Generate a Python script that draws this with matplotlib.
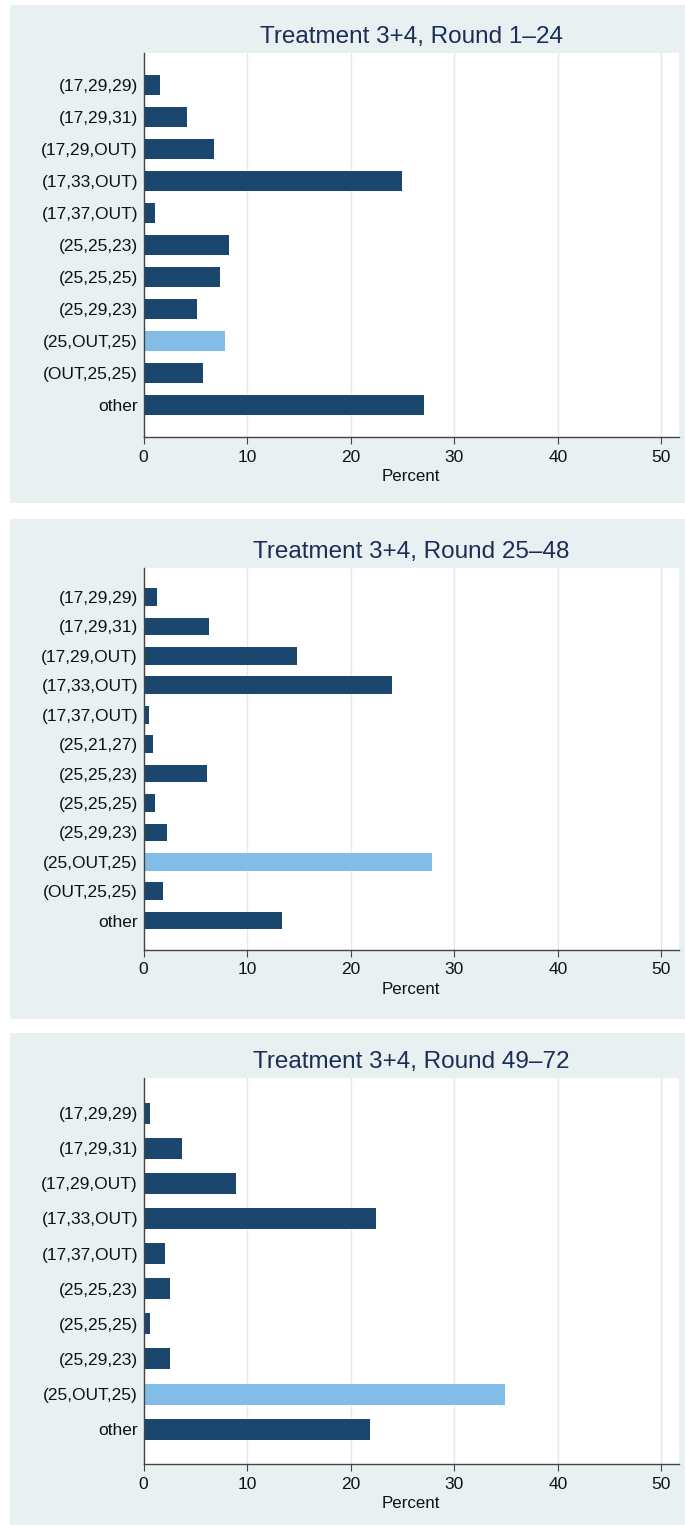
#!/usr/bin/python
# coding=utf8

import matplotlib
matplotlib.use('Agg')
import matplotlib.pyplot as plt
from matplotlib.patches import Rectangle

plt.rcParams['font.family'] = ['Liberation Sans', 'DejaVu Sans']

# strategy profiles and their shares of play per block of rounds

titles = ['Treatment 3+4, Round 1\u201324', 'Treatment 3+4, Round 25\u201348', 'Treatment 3+4, Round 49\u201372']

labels1 = ['(17,29,29)', '(17,29,31)', '(17,29,OUT)', '(17,33,OUT)', '(17,37,OUT)', '(25,25,23)', '(25,25,25)', '(25,29,23)', '(25,OUT,25)', '(OUT,25,25)', 'other']
percent1 = [1.6, 4.2, 6.8, 25.0, 1.1, 8.3, 7.4, 5.2, 7.9, 5.7, 27.1]

labels2 = ['(17,29,29)', '(17,29,31)', '(17,29,OUT)', '(17,33,OUT)', '(17,37,OUT)', '(25,21,27)', '(25,25,23)', '(25,25,25)', '(25,29,23)', '(25,OUT,25)', '(OUT,25,25)', 'other']
percent2 = [1.3, 6.3, 14.8, 24.0, 0.5, 0.9, 6.1, 1.1, 2.3, 27.9, 1.9, 13.4]

labels3 = ['(17,29,29)', '(17,29,31)', '(17,29,OUT)', '(17,33,OUT)', '(17,37,OUT)', '(25,25,23)', '(25,25,25)', '(25,29,23)', '(25,OUT,25)', 'other']
percent3 = [0.6, 3.7, 8.9, 22.4, 2.1, 2.6, 0.6, 2.6, 34.9, 21.9]

highlight = '(25,OUT,25)'
xticks = [0, 10, 20, 30, 40, 50]

W, H = 685.0, 1525.0
navy = '#1b476f'
light = '#82bde8'
panel_bg = '#e8f0f2'
grid = '#e0e9ed'

def plot_panel(fig, box, axbox, title, labels, values):
  """
  Draw one horizontal bar panel: shaded panel region, white plot region, bars and labels.
  Boxes are given in pixels as (left, top, right, bottom).
  """
  bg = Rectangle((box[0] / W, 1 - box[3] / H), (box[2] - box[0]) / W, (box[3] - box[1]) / H, transform = fig.transFigure, facecolor = panel_bg, edgecolor = 'none', zorder = -10)
  fig.add_artist(bg)
  ax = fig.add_axes([axbox[0] / W, 1 - axbox[3] / H, (axbox[2] - axbox[0]) / W, (axbox[3] - axbox[1]) / H], zorder = 1)
  ax.set_facecolor('white')
  n = len(labels)
  pos = list(range(n, 0, -1))
  colors = [light if label == highlight else navy for label in labels]
  ax.barh(pos, values, height = 0.6, color = colors, edgecolor = 'none', zorder = 2)
  ax.set_ylim(0, n + 1)
  ax.set_xlim(0, 51.7)
  ax.set_yticks(pos)
  ax.set_yticklabels(labels, fontsize = 12.5, color = '#111111')
  ax.set_xticks(xticks)
  ax.set_xticklabels([str(t) for t in xticks], fontsize = 12.5, color = '#111111')
  ax.tick_params(axis = 'y', length = 0, pad = 4)
  ax.tick_params(axis = 'x', length = 5, width = 0.8, color = '#444444', pad = 4)
  for t in xticks[1:]:
    ax.axvline(t, color = grid, linewidth = 1.0, zorder = 1)
  for side in ['top', 'right']:
    ax.spines[side].set_visible(False)
  for side in ['left', 'bottom']:
    ax.spines[side].set_color('#444444')
    ax.spines[side].set_linewidth(1.0)
  ax.set_xlabel('Percent', fontsize = 12.2, color = '#111111', labelpad = 3)
  ax.set_title(title, fontsize = 17.5, color = '#1c2d56', pad = 7)
  return ax

fig = plt.figure(figsize = (W / 100, H / 100), dpi = 100)
fig.patch.set_facecolor('white')

plot_panel(fig, (10, 5, 685, 503), (143.5, 53, 679, 437), titles[0], labels1, percent1)
plot_panel(fig, (10, 519, 685, 1019), (143.5, 567.6, 679, 950), titles[1], labels2, percent2)
plot_panel(fig, (10, 1033, 685, 1525), (143.5, 1078, 679, 1464.3), titles[2], labels3, percent3)

fig.savefig('out.png', dpi = 100)
